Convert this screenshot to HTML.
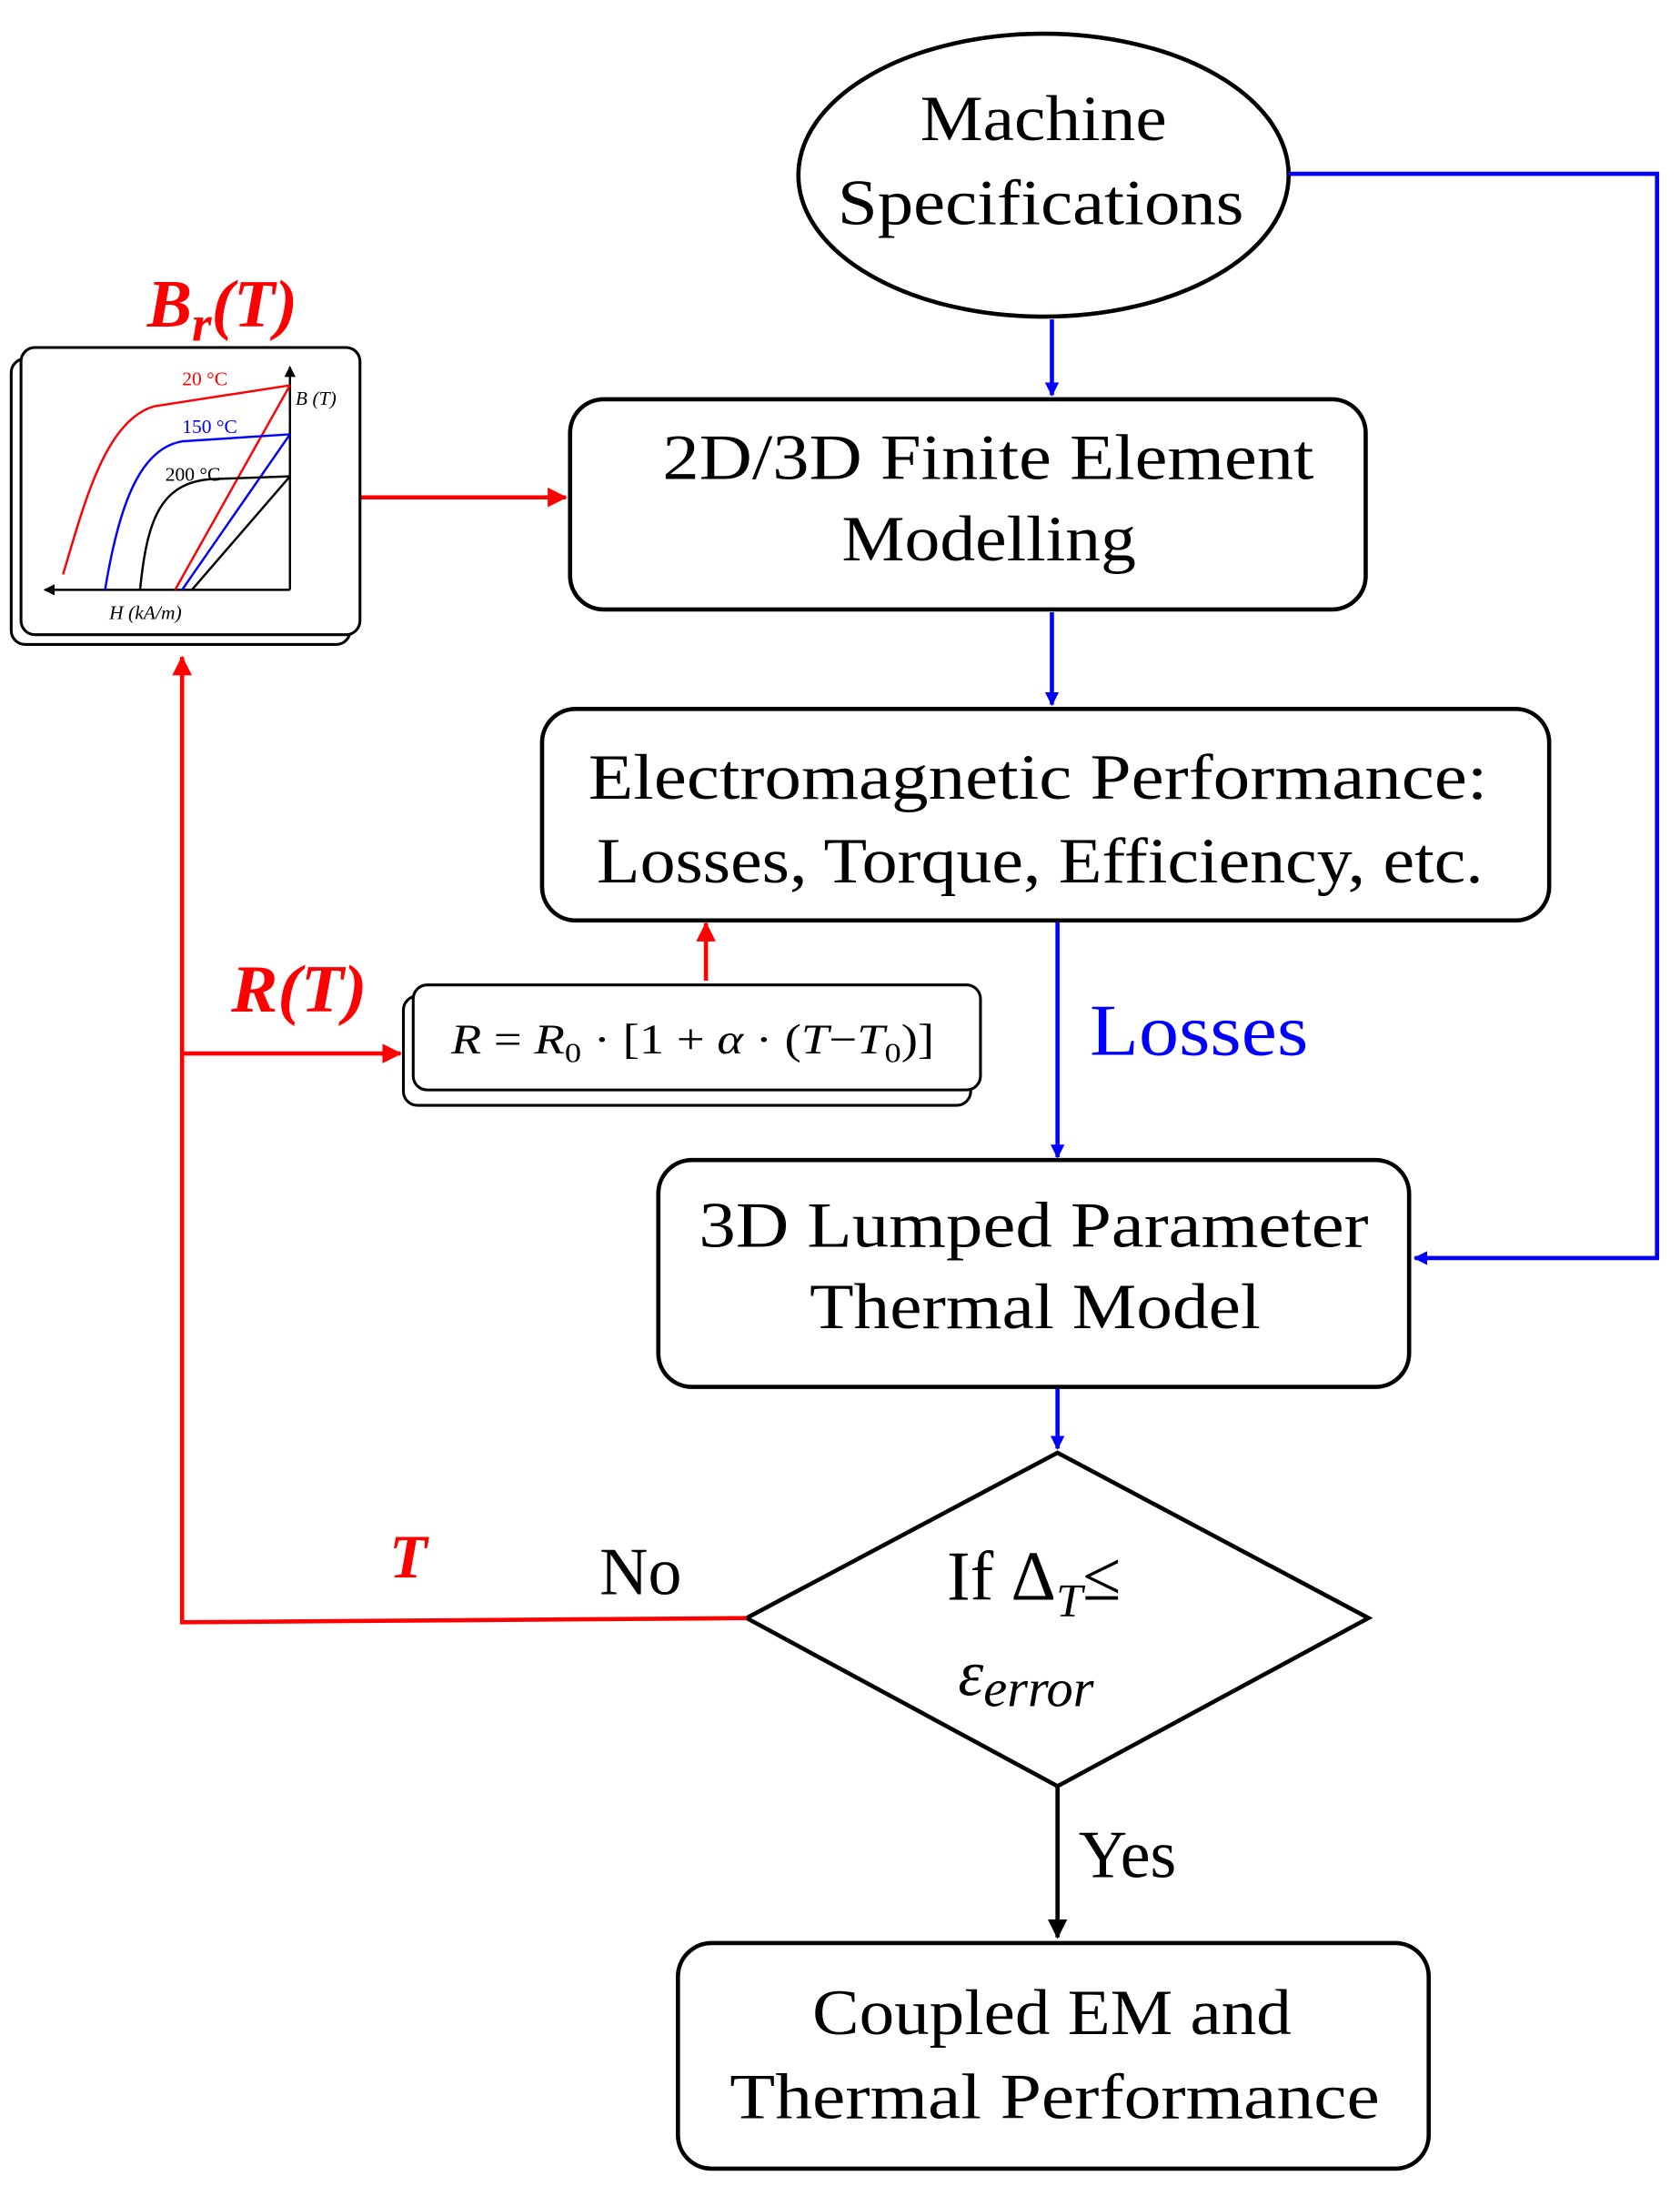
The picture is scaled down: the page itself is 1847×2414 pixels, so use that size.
<!DOCTYPE html>
<html><head><meta charset="utf-8"><style>html,body{margin:0;padding:0;background:#fff}svg{display:block}</style></head>
<body>
<svg width="1847" height="2414" viewBox="0 0 1199.4 1567.5" xmlns="http://www.w3.org/2000/svg" font-family="Liberation Serif, serif">
<defs>
<marker id="ab" markerWidth="10" markerHeight="10" refX="9" refY="5" orient="auto" markerUnits="userSpaceOnUse"><path d="M0,0 L10,5 L0,10 z" fill="#0000ff"/></marker>
<marker id="ar" markerWidth="14" markerHeight="14" refX="13" refY="7" orient="auto" markerUnits="userSpaceOnUse"><path d="M0,0 L14,7 L0,14 z" fill="#ff0000"/></marker>
<marker id="ak" markerWidth="14" markerHeight="14" refX="13" refY="7" orient="auto" markerUnits="userSpaceOnUse"><path d="M0,0 L14,7 L0,14 z" fill="#000"/></marker>
<marker id="as" markerWidth="8" markerHeight="8" refX="7" refY="4" orient="auto" markerUnits="userSpaceOnUse"><path d="M0,0 L8,4 L0,8 z" fill="#000"/></marker>
</defs>
<ellipse cx="745" cy="125" rx="175" ry="101" fill="#fff" stroke="#000" stroke-width="3"/>
<g font-size="46" lengthAdjust="spacingAndGlyphs">
<text x="657" y="100" textLength="176" lengthAdjust="spacingAndGlyphs">Machine</text>
<text x="598" y="160" textLength="290" lengthAdjust="spacingAndGlyphs">Specifications</text>
</g>
<g stroke="#0000ff" stroke-width="3" fill="none">
<path d="M920,124 H1183 V898 H1010" marker-end="url(#ab)"/>
<path d="M751,228 V282" marker-end="url(#ab)"/>
<path d="M751,437 V503" marker-end="url(#ab)"/>
<path d="M755,657 V826" marker-end="url(#ab)"/>
<path d="M755,990 V1034" marker-end="url(#ab)"/>
</g>
<g fill="#fff" stroke="#000" stroke-width="3">
<rect x="407" y="285" width="568" height="150" rx="24"/>
<rect x="387" y="506" width="719" height="151" rx="24"/>
<rect x="470" y="828" width="536" height="162" rx="24"/>
<rect x="484" y="1387" width="536" height="161" rx="24"/>
<path d="M533,1155 L755,1037 L977,1155 L755,1275 Z"/>
</g>
<g font-size="46">
<text x="473" y="342" textLength="465" lengthAdjust="spacingAndGlyphs">2D/3D Finite Element</text>
<text x="601" y="400" textLength="210" lengthAdjust="spacingAndGlyphs">Modelling</text>
<text x="420" y="570" textLength="642" lengthAdjust="spacingAndGlyphs">Electromagnetic Performance:</text>
<text x="426" y="630" textLength="633" lengthAdjust="spacingAndGlyphs">Losses, Torque, Efficiency, etc.</text>
<text x="499" y="890" textLength="478" lengthAdjust="spacingAndGlyphs">3D Lumped Parameter</text>
<text x="578" y="948" textLength="322" lengthAdjust="spacingAndGlyphs">Thermal Model</text>
<text x="580" y="1452" textLength="342" lengthAdjust="spacingAndGlyphs">Coupled EM and</text>
<text x="521" y="1512" textLength="464" lengthAdjust="spacingAndGlyphs">Thermal Performance</text>
</g>
<text x="778" y="753" font-size="52" fill="#0000ff" textLength="156" lengthAdjust="spacingAndGlyphs">Losses</text>
<text x="676" y="1142" font-size="50">If Δ<tspan font-size="34" font-style="italic" dy="12">T</tspan><tspan dy="-12">≤</tspan></text>
<text x="684" y="1210" font-size="46" font-style="italic">ε<tspan font-size="38" dy="8">error</tspan></text>
<path d="M755,1275 V1383" stroke="#000" stroke-width="3" fill="none" marker-end="url(#ak)"/>
<text x="770" y="1340" font-size="48">Yes</text>
<text x="428" y="1138" font-size="48">No</text>
<g stroke="#ff0000" stroke-width="3" fill="none">
<path d="M533,1155 L130,1158 V469" marker-end="url(#ar)"/>
<path d="M130,752 H286" marker-end="url(#ar)"/>
<path d="M257,355 H404" marker-end="url(#ar)"/>
<path d="M504,700 V659" marker-end="url(#ar)"/>
</g>
<text x="278" y="1126" font-size="44" font-weight="bold" font-style="italic" fill="#ff0000">T</text>
<text x="165" y="722" font-size="48" font-weight="bold" font-style="italic" fill="#ff0000" textLength="97" lengthAdjust="spacingAndGlyphs">R(T)</text>
<text x="105" y="233" font-size="48" font-weight="bold" font-style="italic" fill="#ff0000">B<tspan font-size="36" dy="10">r</tspan><tspan dy="-10">(T)</tspan></text>
<rect x="288" y="711" width="405" height="78" rx="10" fill="#fff" stroke="#000" stroke-width="2"/>
<rect x="295" y="703" width="405" height="75" rx="10" fill="#fff" stroke="#000" stroke-width="2"/>
<text x="322" y="752" font-size="30" textLength="345" lengthAdjust="spacingAndGlyphs"><tspan font-style="italic">R</tspan> = <tspan font-style="italic">R</tspan><tspan font-size="20" dy="6">0</tspan><tspan dy="-6"> · [1 + </tspan><tspan font-style="italic">α</tspan> · (<tspan font-style="italic">T</tspan>−<tspan font-style="italic">T</tspan><tspan font-size="20" dy="6">0</tspan><tspan dy="-6">)]</tspan></text>
<rect x="8" y="256" width="242" height="204" rx="10" fill="#fff" stroke="#000" stroke-width="2"/>
<rect x="15" y="248" width="242" height="205" rx="10" fill="#fff" stroke="#000" stroke-width="2"/>
<g stroke-width="1.6" fill="none">
<path d="M207,421 V262" stroke="#000" marker-end="url(#as)"/>
<path d="M207,421 H32" stroke="#000" marker-end="url(#as)"/>
<path d="M45,410 C60,360 75,300 110,290 L207,275" stroke="#ff0000"/>
<path d="M125,421 L207,275" stroke="#ff0000"/>
<path d="M75,421 C85,360 100,320 130,315 L207,310" stroke="#0000ff"/>
<path d="M130,421 L207,310" stroke="#0000ff"/>
<path d="M100,421 C105,370 115,345 150,342 L207,340" stroke="#000"/>
<path d="M137,421 L207,340" stroke="#000"/>
</g>
<g font-size="14">
<text x="130" y="275" fill="#ff0000">20 °C</text>
<text x="130" y="309" fill="#0000ff">150 °C</text>
<text x="118" y="343" fill="#000">200 °C</text>
<text x="211" y="289" font-style="italic">B (T)</text>
<text x="78" y="442" font-style="italic">H (kA/m)</text>
</g>
</svg>
</body></html>
